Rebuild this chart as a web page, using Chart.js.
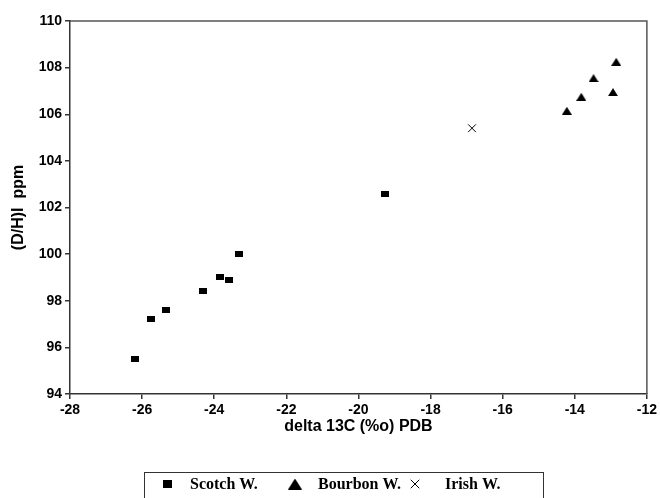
<!DOCTYPE html>
<html><head><meta charset="utf-8">
<script src="https://cdn.jsdelivr.net/npm/chart.js@4/dist/chart.umd.min.js"></script>
<style>html,body{margin:0;padding:0;background:#fff}</style>
</head><body>
<canvas id="c" width="660" height="498" style="display:block;width:660px;height:498px"></canvas>
<script>
// ---- data ----
const seriesNames = ['Scotch W.', 'Bourbon W.', 'Irish W.'];
const scotchX = [-26.2, -25.75, -25.35, -24.3, -23.85, -23.6, -23.3, -19.25];
const scotchY = [95.5, 97.2, 97.6, 98.4, 99.0, 98.9, 100.0, 102.6];
const bourbonX = [-14.22, -13.82, -13.48, -12.94, -12.85];
const bourbonY = [106.15, 106.75, 107.55, 106.95, 108.25];
const irishX = [-16.85];
const irishY = [105.4];
const xTitle = 'delta 13C (%o) PDB';
const yTitle = '(D/H)I  ppm';
const xMin = -28, xMax = -12, xStep = 2;
const yMin = 94, yMax = 110, yStep = 2;

function pts(xs, ys) { return xs.map((x, i) => ({ x: x, y: ys[i] })); }

function rectMarker(w, h) {
  const c = document.createElement('canvas'); c.width = w; c.height = h;
  const g = c.getContext('2d'); g.fillStyle = '#000'; g.fillRect(0, 0, w, h); return c;
}
function triMarker(w, h) {
  const c = document.createElement('canvas'); c.width = w; c.height = h;
  const g = c.getContext('2d'); g.fillStyle = '#000';
  g.beginPath(); g.moveTo(w / 2, 0); g.lineTo(w, h); g.lineTo(0, h); g.closePath(); g.fill(); return c;
}
const sqPt = rectMarker(8, 6), triPt = triMarker(10, 8);
const sqLeg = rectMarker(9, 8), triLeg = triMarker(14, 11);

const framePlugin = {
  id: 'frame',
  afterDraw(chart) {
    const { ctx, chartArea: a } = chart;
    ctx.save();
    ctx.strokeStyle = '#555'; ctx.lineWidth = 1.5;
    ctx.beginPath(); ctx.moveTo(a.left, a.top); ctx.lineTo(a.right, a.top); ctx.lineTo(a.right, a.bottom); ctx.stroke();
    // legend
    ctx.strokeStyle = '#333'; ctx.lineWidth = 1;
    ctx.strokeRect(144.5, 472.5, 399, 40);
    const markerX = [167, 295, 415], textX = [190, 318, 445], ly = 484;
    const legStyles = [sqLeg, triLeg, 'crossRot'];
    ctx.font = 'bold 16px "Liberation Serif"';
    ctx.fillStyle = '#000'; ctx.textBaseline = 'middle'; ctx.textAlign = 'left';
    chart.data.datasets.forEach((ds, i) => {
      ctx.strokeStyle = '#000'; ctx.fillStyle = '#000'; ctx.lineWidth = 1;
      Chart.helpers.drawPoint(ctx, { pointStyle: legStyles[i], radius: 6, borderWidth: 1, rotation: 0 }, markerX[i], ly);
      ctx.fillStyle = '#000';
      ctx.fillText(ds.label, textX[i], ly + 1);
    });
    ctx.restore();
  }
};

const tickFont = { family: 'Liberation Sans', weight: 'bold', size: 14 };
new Chart(document.getElementById('c'), {
  type: 'scatter',
  data: {
    datasets: [
      { label: seriesNames[0], data: pts(scotchX, scotchY), pointStyle: sqPt, backgroundColor: '#000', borderColor: '#000' },
      { label: seriesNames[1], data: pts(bourbonX, bourbonY), pointStyle: triPt, backgroundColor: '#000', borderColor: '#000' },
      { label: seriesNames[2], data: pts(irishX, irishY), pointStyle: 'crossRot', radius: 5.5, borderWidth: 1, backgroundColor: '#000', borderColor: '#000' }
    ]
  },
  options: {
    responsive: false, animation: false, devicePixelRatio: 1,
    layout: { padding: { top: 21, right: 13, left: 0, bottom: 60 } },
    plugins: { legend: { display: false }, tooltip: { enabled: false } },
    scales: {
      x: {
        type: 'linear', min: xMin, max: xMax,
        afterFit(s) { s.height = 44; },
        ticks: { stepSize: xStep, color: '#000', font: tickFont, padding: 3, maxRotation: 0 },
        grid: { drawOnChartArea: false, tickLength: 5, color: '#333', lineWidth: 1.5 },
        border: { color: '#333', width: 1.5 },
        title: { display: true, text: xTitle, color: '#000', font: { family: 'Liberation Sans', weight: 'bold', size: 16 }, padding: { top: 0, bottom: 2 } }
      },
      y: {
        type: 'linear', min: yMin, max: yMax,
        afterFit(s) { s.width = 70; },
        ticks: { stepSize: yStep, color: '#000', font: tickFont, padding: 3 },
        grid: { drawOnChartArea: false, tickLength: 5, color: '#333', lineWidth: 1.5 },
        border: { color: '#333', width: 1.5 },
        title: { display: true, text: yTitle, color: '#000', font: { family: 'Liberation Sans', weight: 'bold', size: 16 }, padding: { top: 9, bottom: 0 } }
      }
    }
  },
  plugins: [framePlugin]
});
</script>
</body></html>
